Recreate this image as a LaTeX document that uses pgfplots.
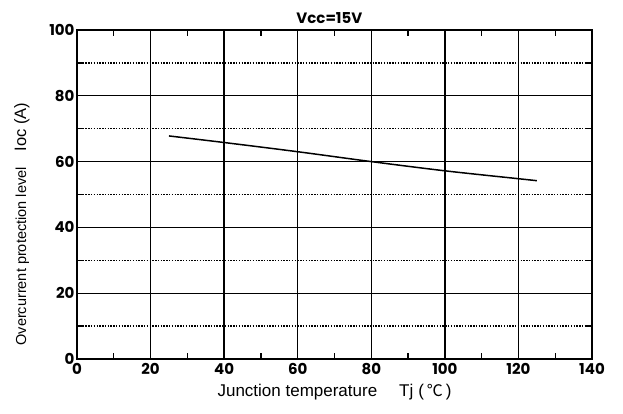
\documentclass[border=0pt]{standalone}
\usepackage{fontspec}
\setmainfont{Liberation Sans}
\newfontfamily\pop{Poppins}
\newfontfamily\cjk{Noto Sans CJK SC}
\usepackage{pgfplots}
\pgfplotsset{compat=1.18}
\begin{document}
\begin{tikzpicture}
\begin{axis}[
  name=ax,
  scale only axis,
  width=515bp, height=329bp,
  xmin=0, xmax=140, ymin=0, ymax=100,
  xtick={0,20,...,140}, ytick={0,20,...,100},
  minor xtick={10,30,...,130},
  minor ytick={10,30,...,90},
  grid=both,
  major grid style={black, line width=1.3pt},
  minor grid style={black, line width=1.6pt, dash pattern=on 1.4pt off 1.4pt},
  axis line style={black, line width=1.8pt},
  tick style={black, line width=1.3pt},
  major tick length=6bp, minor tick length=6bp,
  tick align=inside,
  xminorgrids=false,
  /pgf/number format/assume math mode=true,
  ticklabel style={font=\fontsize{15bp}{17bp}\pop\bfseries},
  xticklabel style={yshift=-1bp},
  yticklabel style={xshift=1bp},
  title={\fontsize{15bp}{17bp}\pop\bfseries Vcc=15V},
  title style={at={(axis description cs:0.49,1)}, anchor=south, yshift=-3bp},
  xlabel={\fontsize{17bp}{19bp}\selectfont Junction temperature\hspace{22bp}Tj\hspace{5bp}(\,{\cjk\fontsize{16bp}{18bp}\selectfont ℃}\,)},
  ylabel={\fontsize{14.5bp}{17bp}\selectfont Overcurrent protection level\hspace{16bp}{\fontsize{16.5bp}{18bp}\selectfont Ioc (A)}},
  xlabel style={at={(axis description cs:0.5,-0.1)}, anchor=center},
  ylabel style={at={(axis description cs:-0.107,0.41)}, anchor=center},
]
\addplot[black, line width=1.5pt, smooth] coordinates {
(25,67.8) (40,65.8) (60,63.0) (80,60.0) (100,57.2) (120,54.8) (125,54.2)};
\end{axis}
\path[use as bounding box] ([xshift=-77bp,yshift=-55bp]ax.south west) rectangle ([xshift=31bp,yshift=30bp]ax.north east);
\end{tikzpicture}
\end{document}
